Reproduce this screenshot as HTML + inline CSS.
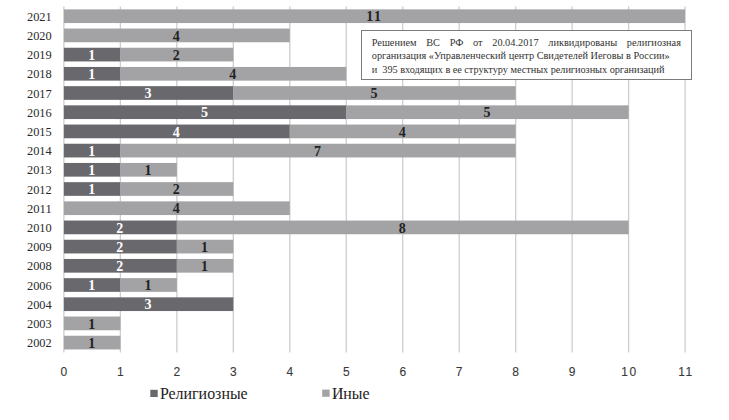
<!DOCTYPE html>
<html><head><meta charset="utf-8">
<style>
html,body{margin:0;padding:0;background:#fff;}
body{width:729px;height:420px;position:relative;overflow:hidden;}
svg{position:absolute;left:0;top:0;}
.yl{font-family:"Liberation Serif",serif;font-size:13.1px;fill:#2a2a2a;}
.bl{font-family:"Liberation Serif",serif;font-size:14px;font-weight:bold;}
.w{fill:#fff;}
.k{fill:#222;}
.xl{font-family:"Liberation Sans",sans-serif;font-size:12px;fill:#383838;stroke:#383838;stroke-width:0.1px;}
.lg{font-family:"Liberation Serif",serif;font-size:15.7px;fill:#222;}
#note{position:absolute;left:360.95px;top:29.75px;width:331px;height:49.8px;box-sizing:border-box;border:1.3px solid #7c7c7c;background:#fff;
 font-family:"Liberation Serif",serif;font-size:10.3px;line-height:13.3px;color:#333;}
#note div{white-space:nowrap;position:absolute;left:9.8px;}
#note .j{width:309.2px;text-align:justify;text-align-last:justify;white-space:normal;}
</style></head><body>
<svg width="729" height="420" viewBox="0 0 729 420">
<line x1="63.90" y1="6.6" x2="63.90" y2="352.4" stroke="#cdcdcd" stroke-width="1.3"/>
<line x1="120.37" y1="6.6" x2="120.37" y2="352.4" stroke="#cdcdcd" stroke-width="1.3"/>
<line x1="176.84" y1="6.6" x2="176.84" y2="352.4" stroke="#cdcdcd" stroke-width="1.3"/>
<line x1="233.31" y1="6.6" x2="233.31" y2="352.4" stroke="#cdcdcd" stroke-width="1.3"/>
<line x1="289.78" y1="6.6" x2="289.78" y2="352.4" stroke="#cdcdcd" stroke-width="1.3"/>
<line x1="346.25" y1="6.6" x2="346.25" y2="352.4" stroke="#cdcdcd" stroke-width="1.3"/>
<line x1="402.72" y1="6.6" x2="402.72" y2="352.4" stroke="#cdcdcd" stroke-width="1.3"/>
<line x1="459.19" y1="6.6" x2="459.19" y2="352.4" stroke="#cdcdcd" stroke-width="1.3"/>
<line x1="515.66" y1="6.6" x2="515.66" y2="352.4" stroke="#cdcdcd" stroke-width="1.3"/>
<line x1="572.13" y1="6.6" x2="572.13" y2="352.4" stroke="#cdcdcd" stroke-width="1.3"/>
<line x1="628.60" y1="6.6" x2="628.60" y2="352.4" stroke="#cdcdcd" stroke-width="1.3"/>
<line x1="685.07" y1="6.6" x2="685.07" y2="352.4" stroke="#cdcdcd" stroke-width="1.3"/>
<text x="51.7" y="20.80" class="yl" text-anchor="end" textLength="24.7" lengthAdjust="spacingAndGlyphs">2021</text>
<rect x="63.90" y="9.35" width="621.17" height="13.7" fill="#a3a3a6"/>
<text x="369.83" y="21.40" class="bl k" text-anchor="middle">1</text>
<text x="377.43" y="21.40" class="bl k" text-anchor="middle">1</text>
<text x="51.7" y="40.00" class="yl" text-anchor="end" textLength="24.7" lengthAdjust="spacingAndGlyphs">2020</text>
<rect x="63.90" y="28.55" width="225.88" height="13.7" fill="#a3a3a6"/>
<text x="176.34" y="40.60" class="bl k" text-anchor="middle">4</text>
<text x="51.7" y="59.20" class="yl" text-anchor="end" textLength="24.7" lengthAdjust="spacingAndGlyphs">2019</text>
<rect x="63.90" y="47.75" width="56.47" height="13.7" fill="#69696d"/>
<rect x="120.37" y="47.75" width="112.94" height="13.7" fill="#a3a3a6"/>
<text x="91.63" y="59.80" class="bl w" text-anchor="middle">1</text>
<text x="176.34" y="59.80" class="bl k" text-anchor="middle">2</text>
<text x="51.7" y="78.40" class="yl" text-anchor="end" textLength="24.7" lengthAdjust="spacingAndGlyphs">2018</text>
<rect x="63.90" y="66.95" width="56.47" height="13.7" fill="#69696d"/>
<rect x="120.37" y="66.95" width="225.88" height="13.7" fill="#a3a3a6"/>
<text x="91.63" y="79.00" class="bl w" text-anchor="middle">1</text>
<text x="232.81" y="79.00" class="bl k" text-anchor="middle">4</text>
<text x="51.7" y="97.60" class="yl" text-anchor="end" textLength="24.7" lengthAdjust="spacingAndGlyphs">2017</text>
<rect x="63.90" y="86.15" width="169.41" height="13.7" fill="#69696d"/>
<rect x="233.31" y="86.15" width="282.35" height="13.7" fill="#a3a3a6"/>
<text x="148.10" y="98.20" class="bl w" text-anchor="middle">3</text>
<text x="373.98" y="98.20" class="bl k" text-anchor="middle">5</text>
<text x="51.7" y="116.80" class="yl" text-anchor="end" textLength="24.7" lengthAdjust="spacingAndGlyphs">2016</text>
<rect x="63.90" y="105.35" width="282.35" height="13.7" fill="#69696d"/>
<rect x="346.25" y="105.35" width="282.35" height="13.7" fill="#a3a3a6"/>
<text x="204.58" y="117.40" class="bl w" text-anchor="middle">5</text>
<text x="486.92" y="117.40" class="bl k" text-anchor="middle">5</text>
<text x="51.7" y="136.00" class="yl" text-anchor="end" textLength="24.7" lengthAdjust="spacingAndGlyphs">2015</text>
<rect x="63.90" y="124.55" width="225.88" height="13.7" fill="#69696d"/>
<rect x="289.78" y="124.55" width="225.88" height="13.7" fill="#a3a3a6"/>
<text x="176.34" y="136.60" class="bl w" text-anchor="middle">4</text>
<text x="402.22" y="136.60" class="bl k" text-anchor="middle">4</text>
<text x="51.7" y="155.20" class="yl" text-anchor="end" textLength="24.7" lengthAdjust="spacingAndGlyphs">2014</text>
<rect x="63.90" y="143.75" width="56.47" height="13.7" fill="#69696d"/>
<rect x="120.37" y="143.75" width="395.29" height="13.7" fill="#a3a3a6"/>
<text x="91.63" y="155.80" class="bl w" text-anchor="middle">1</text>
<text x="317.51" y="155.80" class="bl k" text-anchor="middle">7</text>
<text x="51.7" y="174.40" class="yl" text-anchor="end" textLength="24.7" lengthAdjust="spacingAndGlyphs">2013</text>
<rect x="63.90" y="162.95" width="56.47" height="13.7" fill="#69696d"/>
<rect x="120.37" y="162.95" width="56.47" height="13.7" fill="#a3a3a6"/>
<text x="91.63" y="175.00" class="bl w" text-anchor="middle">1</text>
<text x="148.10" y="175.00" class="bl k" text-anchor="middle">1</text>
<text x="51.7" y="193.60" class="yl" text-anchor="end" textLength="24.7" lengthAdjust="spacingAndGlyphs">2012</text>
<rect x="63.90" y="182.15" width="56.47" height="13.7" fill="#69696d"/>
<rect x="120.37" y="182.15" width="112.94" height="13.7" fill="#a3a3a6"/>
<text x="91.63" y="194.20" class="bl w" text-anchor="middle">1</text>
<text x="176.34" y="194.20" class="bl k" text-anchor="middle">2</text>
<text x="51.7" y="212.80" class="yl" text-anchor="end" textLength="24.7" lengthAdjust="spacingAndGlyphs">2011</text>
<rect x="63.90" y="201.35" width="225.88" height="13.7" fill="#a3a3a6"/>
<text x="176.34" y="213.40" class="bl k" text-anchor="middle">4</text>
<text x="51.7" y="232.00" class="yl" text-anchor="end" textLength="24.7" lengthAdjust="spacingAndGlyphs">2010</text>
<rect x="63.90" y="220.55" width="112.94" height="13.7" fill="#69696d"/>
<rect x="176.84" y="220.55" width="451.76" height="13.7" fill="#a3a3a6"/>
<text x="119.87" y="232.60" class="bl w" text-anchor="middle">2</text>
<text x="402.22" y="232.60" class="bl k" text-anchor="middle">8</text>
<text x="51.7" y="251.20" class="yl" text-anchor="end" textLength="24.7" lengthAdjust="spacingAndGlyphs">2009</text>
<rect x="63.90" y="239.75" width="112.94" height="13.7" fill="#69696d"/>
<rect x="176.84" y="239.75" width="56.47" height="13.7" fill="#a3a3a6"/>
<text x="119.87" y="251.80" class="bl w" text-anchor="middle">2</text>
<text x="204.58" y="251.80" class="bl k" text-anchor="middle">1</text>
<text x="51.7" y="270.40" class="yl" text-anchor="end" textLength="24.7" lengthAdjust="spacingAndGlyphs">2008</text>
<rect x="63.90" y="258.95" width="112.94" height="13.7" fill="#69696d"/>
<rect x="176.84" y="258.95" width="56.47" height="13.7" fill="#a3a3a6"/>
<text x="119.87" y="271.00" class="bl w" text-anchor="middle">2</text>
<text x="204.58" y="271.00" class="bl k" text-anchor="middle">1</text>
<text x="51.7" y="289.60" class="yl" text-anchor="end" textLength="24.7" lengthAdjust="spacingAndGlyphs">2006</text>
<rect x="63.90" y="278.15" width="56.47" height="13.7" fill="#69696d"/>
<rect x="120.37" y="278.15" width="56.47" height="13.7" fill="#a3a3a6"/>
<text x="91.63" y="290.20" class="bl w" text-anchor="middle">1</text>
<text x="148.10" y="290.20" class="bl k" text-anchor="middle">1</text>
<text x="51.7" y="308.80" class="yl" text-anchor="end" textLength="24.7" lengthAdjust="spacingAndGlyphs">2004</text>
<rect x="63.90" y="297.35" width="169.41" height="13.7" fill="#69696d"/>
<text x="148.10" y="309.40" class="bl w" text-anchor="middle">3</text>
<text x="51.7" y="328.00" class="yl" text-anchor="end" textLength="24.7" lengthAdjust="spacingAndGlyphs">2003</text>
<rect x="63.90" y="316.55" width="56.47" height="13.7" fill="#a3a3a6"/>
<text x="91.63" y="328.60" class="bl k" text-anchor="middle">1</text>
<text x="51.7" y="347.20" class="yl" text-anchor="end" textLength="24.7" lengthAdjust="spacingAndGlyphs">2002</text>
<rect x="63.90" y="335.75" width="56.47" height="13.7" fill="#a3a3a6"/>
<text x="91.63" y="347.80" class="bl k" text-anchor="middle">1</text>
<text x="63.90" y="376" class="xl" text-anchor="middle">0</text>
<text x="120.37" y="376" class="xl" text-anchor="middle">1</text>
<text x="176.84" y="376" class="xl" text-anchor="middle">2</text>
<text x="233.31" y="376" class="xl" text-anchor="middle">3</text>
<text x="289.78" y="376" class="xl" text-anchor="middle">4</text>
<text x="346.25" y="376" class="xl" text-anchor="middle">5</text>
<text x="402.72" y="376" class="xl" text-anchor="middle">6</text>
<text x="459.19" y="376" class="xl" text-anchor="middle">7</text>
<text x="515.66" y="376" class="xl" text-anchor="middle">8</text>
<text x="572.13" y="376" class="xl" text-anchor="middle">9</text>
<text x="629.50" y="376" class="xl" text-anchor="middle" letter-spacing="1.6">10</text>
<text x="685.97" y="376" class="xl" text-anchor="middle" letter-spacing="1.6">11</text>
<rect x="150.3" y="389.8" width="7.4" height="7.2" fill="#69696d"/>
<text x="159.9" y="398.7" class="lg" textLength="87.8" lengthAdjust="spacingAndGlyphs">Религиозные</text>
<rect x="322.2" y="389.6" width="7.4" height="7.2" fill="#a3a3a6"/>
<text x="331.9" y="398.7" class="lg" textLength="37.7" lengthAdjust="spacingAndGlyphs">Иные</text>
</svg>
<div id="note">
<div class="j" style="top:5.2px">Решением ВС РФ от 20.04.2017 ликвидированы религиозная</div>
<div style="top:18.6px">организация «Управленческий центр Свидетелей Иеговы в России»</div>
<div style="top:32px;letter-spacing:-0.04px">и&nbsp; 395 входящих в ее структуру местных религиозных организаций</div>
</div>
</body></html>
